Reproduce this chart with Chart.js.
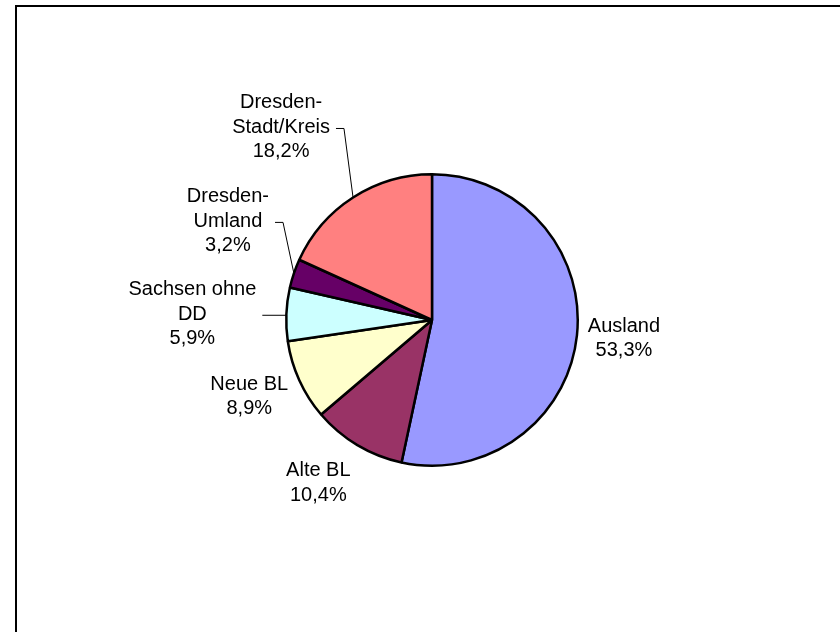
<!DOCTYPE html>
<html>
<head>
<meta charset="utf-8">
<script src="https://cdn.jsdelivr.net/npm/chart.js@4/dist/chart.umd.min.js"></script>
<style>
    html, body { margin: 0; padding: 0; background: #fff; }
    #wrap { width: 840px; height: 632px; position: relative; }
</style>
</head>
<body>
<div id="wrap"><canvas id="myChart" width="840" height="632"></canvas></div>
<script>
// chart data
const categories = [
    ['Ausland'],
    ['Alte BL'],
    ['Neue BL'],
    ['Sachsen ohne', 'DD'],
    ['Dresden-', 'Umland'],
    ['Dresden-', 'Stadt/Kreis']
];
const shares = [53.3, 10.4, 8.9, 5.9, 3.2, 18.2];
const sliceColors = ['#9999FF', '#993366', '#FFFFCC', '#CCFFFF', '#660066', '#FF8080'];

// label placement relative to the slice's outer mid point
const labelOffsets = [
    { dx: 47, dy: 3 },
    { dx: -39, dy: 38 },
    { dx: -50, dy: 16 },
    { dx: -94, dy: 0, leader: true },
    { dx: -66, dy: -52, leader: true },
    { dx: -72, dy: -70, leader: true }
];

function formatPct(v) {
    return v.toFixed(1).replace('.', ',') + '%';
}

const framePlugin = {
    id: 'frame',
    beforeDraw(chart) {
        const ctx = chart.ctx;
        ctx.save();
        ctx.fillStyle = '#fff';
        ctx.fillRect(0, 0, chart.width, chart.height);
        ctx.fillStyle = '#000';
        ctx.fillRect(15, 5, chart.width, 2);
        ctx.fillRect(15, 5, 2, chart.height);
        ctx.restore();
    }
};

const labelPlugin = {
    id: 'sliceLabels',
    afterDatasetsDraw(chart) {
        const ctx = chart.ctx;
        const arcs = chart.getDatasetMeta(0).data;
        const lineH = 24.5;
        ctx.save();
        ctx.font = '20px "Liberation Sans", Arial, sans-serif';
        ctx.fillStyle = '#000';
        ctx.textAlign = 'center';
        ctx.textBaseline = 'middle';
        arcs.forEach((arc, i) => {
            const p = arc.getProps(['x', 'y', 'startAngle', 'endAngle', 'outerRadius'], true);
            const mid = (p.startAngle + p.endAngle) / 2;
            const ex = p.x + Math.cos(mid) * p.outerRadius;
            const ey = p.y + Math.sin(mid) * p.outerRadius;
            const off = labelOffsets[i];
            const cx = ex + off.dx;
            const cy = ey + off.dy;
            const lines = categories[i].concat([formatPct(shares[i])]);
            const top = cy - (lines.length - 1) * lineH / 2;
            let maxW = 0;
            lines.forEach((t, j) => {
                ctx.fillText(t, cx, top + j * lineH);
                maxW = Math.max(maxW, ctx.measureText(t).width);
            });
            if (off.leader) {
                const sx = cx + maxW / 2 + 6;
                const sy = cy + 1;
                ctx.strokeStyle = '#000';
                ctx.lineWidth = 1;
                ctx.beginPath();
                ctx.moveTo(sx, sy);
                // nearly level with the slice: one straight line
                if (Math.abs(ey - sy) < 4) {
                    ctx.lineTo(ex, sy);
                } else {
                    ctx.lineTo(sx + 8, sy);
                    ctx.lineTo(ex, ey);
                }
                ctx.stroke();
            }
        });
        ctx.restore();
    }
};

const ctx = document.getElementById('myChart').getContext('2d');
const chart = new Chart(ctx, {
    type: 'pie',
    data: {
        labels: categories.map(c => c.join(' ')),
        datasets: [{
            data: shares,
            backgroundColor: sliceColors,
            borderColor: '#000',
            borderWidth: 2.5
        }]
    },
    options: {
        responsive: false,
        animation: false,
        layout: {
            padding: { left: 285, right: 261, top: 173, bottom: 165 }
        },
        plugins: {
            legend: { display: false },
            tooltip: { enabled: false },
            title: { display: false }
        }
    },
    plugins: [framePlugin, labelPlugin]
});
</script>
</body>
</html>
